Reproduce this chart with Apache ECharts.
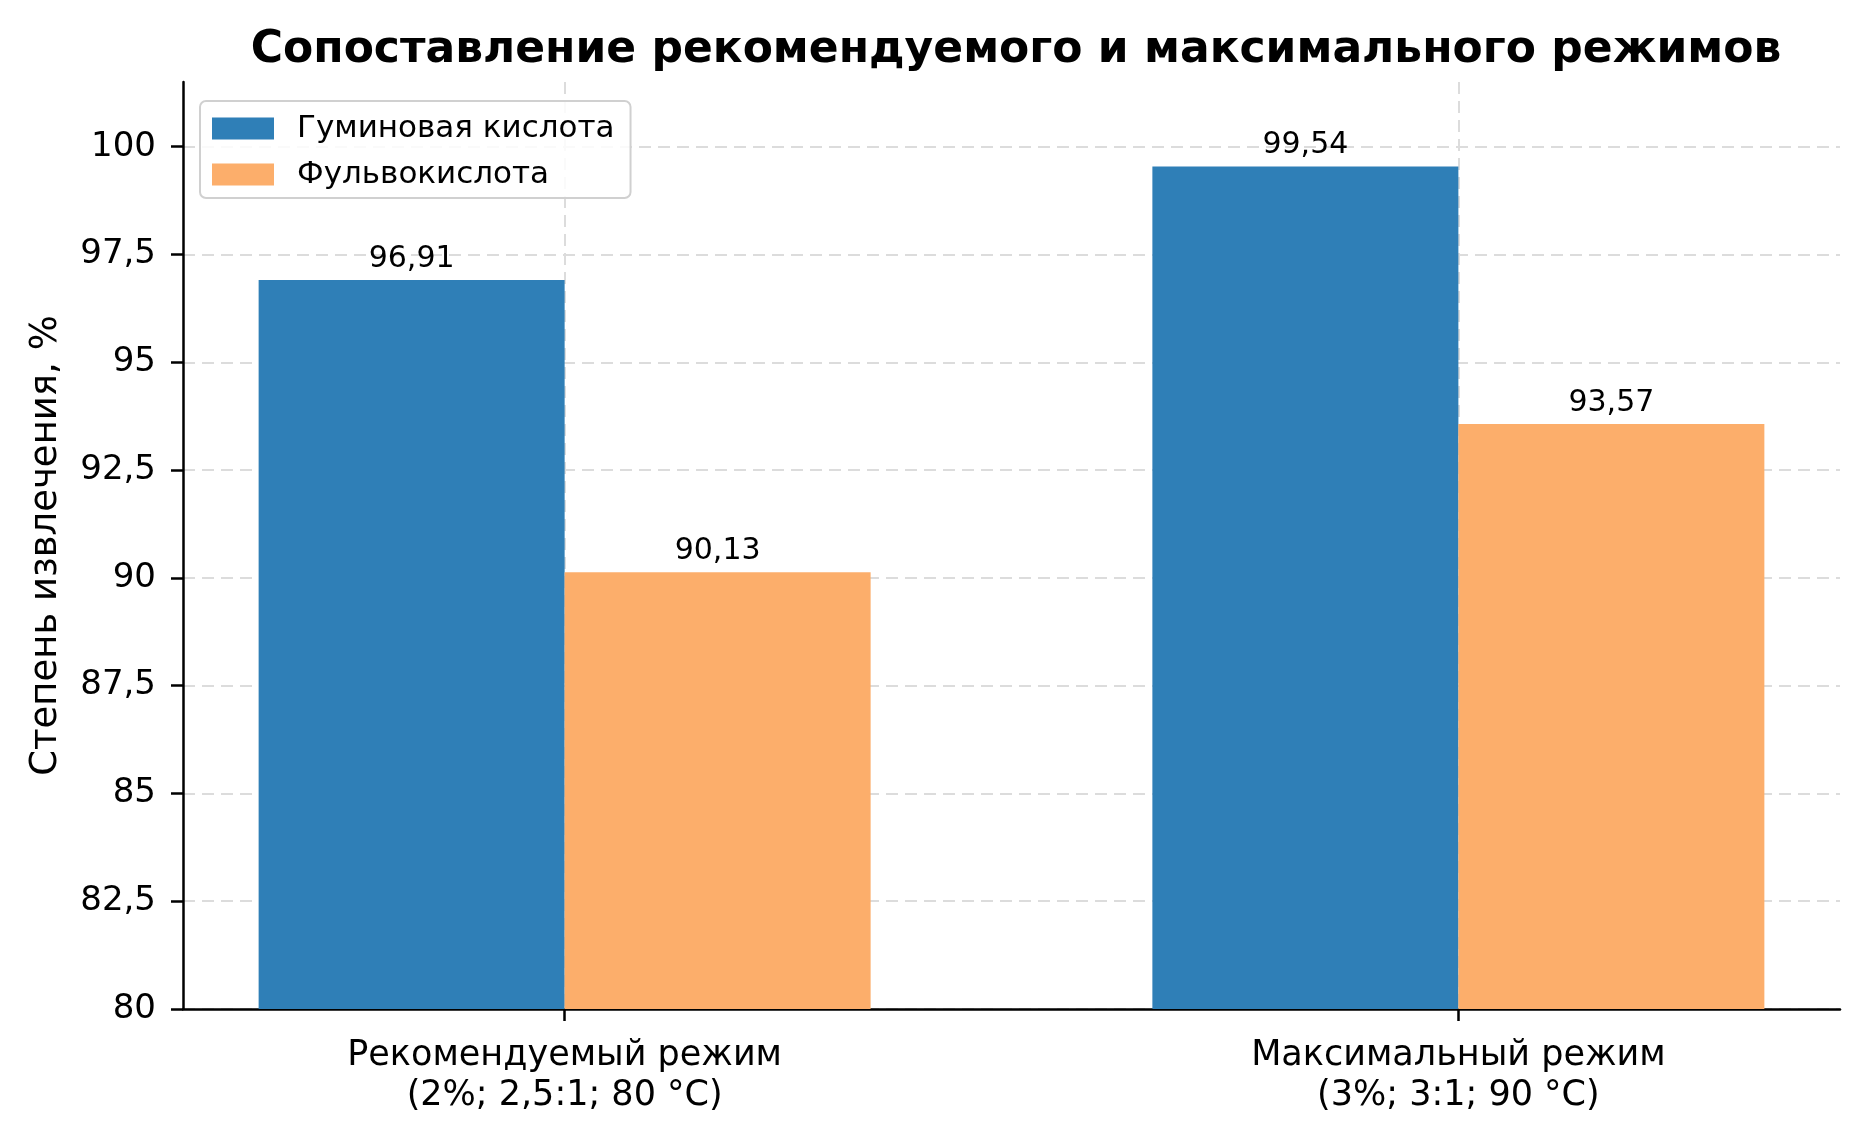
<!DOCTYPE html>
<html>
<head>
<meta charset="utf-8">
<script src="https://cdn.jsdelivr.net/npm/echarts@6/dist/echarts.min.js"></script>
<style>
    html, body { margin: 0; padding: 0; background: #fff; }
    #main { width: 1866px; height: 1141px; }
</style>
</head>
<body>
<div id="main"></div>
<script>
var categories = ['Рекомендуемый режим\n(2%; 2,5:1; 80 °C)', 'Максимальный режим\n(3%; 3:1; 90 °C)'];
var seriesNames = ['Гуминовая кислота', 'Фульвокислота'];
var humic = [96.91, 99.54];
var fulvic = [90.13, 93.57];
var yTicks = [80, 82.5, 85, 87.5, 90, 92.5, 95, 97.5, 100];
var yMin = 80, yMax = 101.5;

var font = 'DejaVu Sans';

function comma(v) {
    return String(v).replace('.', ',');
}

// x is a value axis so bars can sit at category index 0 and 1 with matplotlib-like margins
function toPoints(arr) {
    var out = [];
    for (var i = 0; i < arr.length; i++) {
        out.push([i, arr[i]]);
    }
    return out;
}

var catIdx = categories.map(function (c, i) { return i; });

var myChart = echarts.init(document.getElementById('main'));

var gridLine = { show: true, lineStyle: { color: '#dcdcdc', width: 2, type: [12, 7] } };

var option = {
    animation: false,
    backgroundColor: '#fff',
    title: {
        text: 'Сопоставление рекомендуемого и максимального режимов',
        left: 1011,
        textAlign: 'center',
        top: 24,
        textStyle: { fontFamily: font, fontSize: 44, fontWeight: 'bold', color: '#000' }
    },
    legend: {
        data: seriesNames,
        orient: 'vertical',
        left: 200,
        top: 101,
        icon: 'rect',
        padding: [12, 16, 8, 12],
        itemWidth: 62,
        itemHeight: 22,
        itemGap: 15,
        borderColor: '#d0d0d0',
        borderWidth: 2,
        borderRadius: 6,
        backgroundColor: 'rgba(255,255,255,0.85)',
        textStyle: { fontFamily: font, fontSize: 31, color: '#000', padding: [0, 0, 0, 18] }
    },
    grid: { left: 183, right: 26, top: 82, bottom: 132, containLabel: false },
    xAxis: {
        type: 'value',
        min: -0.427,
        max: 1.427,
        axisLine: { show: true, onZero: false, lineStyle: { color: '#000', width: 2.5 } },
        axisTick: { show: true, length: 12, customValues: catIdx, lineStyle: { color: '#000', width: 2.5 } },
        axisLabel: {
            customValues: catIdx,
            margin: 27,
            fontFamily: font,
            fontSize: 35,
            lineHeight: 40,
            color: '#000',
            formatter: function (v) { return categories[Math.round(v)]; }
        },
        splitLine: gridLine
    },
    yAxis: {
        type: 'value',
        min: yMin,
        max: yMax,
        name: 'Степень извлечения, %',
        nameLocation: 'middle',
        nameGap: 118,
        nameTextStyle: { fontFamily: font, fontSize: 37, color: '#000' },
        axisLine: { show: true, onZero: false, lineStyle: { color: '#000', width: 2.5 } },
        axisTick: { show: true, length: 12, customValues: yTicks, lineStyle: { color: '#000', width: 2.5 } },
        axisLabel: {
            customValues: yTicks,
            margin: 27,
            fontFamily: font,
            fontSize: 34,
            color: '#000',
            formatter: function (v) { return comma(v); }
        },
        splitLine: gridLine
    },
    series: [
        {
            name: seriesNames[0],
            type: 'bar',
            data: toPoints(humic),
            barWidth: 306,
            barGap: '0%',
            itemStyle: { color: '#2f7fb7' },
            label: {
                show: true,
                position: 'top',
                distance: 6,
                fontFamily: font,
                fontSize: 30,
                color: '#000',
                formatter: function (p) { return comma(p.value[1]); }
            }
        },
        {
            name: seriesNames[1],
            type: 'bar',
            data: toPoints(fulvic),
            barWidth: 306,
            barGap: '0%',
            itemStyle: { color: '#fcae6b' },
            label: {
                show: true,
                position: 'top',
                distance: 6,
                fontFamily: font,
                fontSize: 30,
                color: '#000',
                formatter: function (p) { return comma(p.value[1]); }
            }
        }
    ]
};

myChart.setOption(option);
</script>
</body>
</html>
